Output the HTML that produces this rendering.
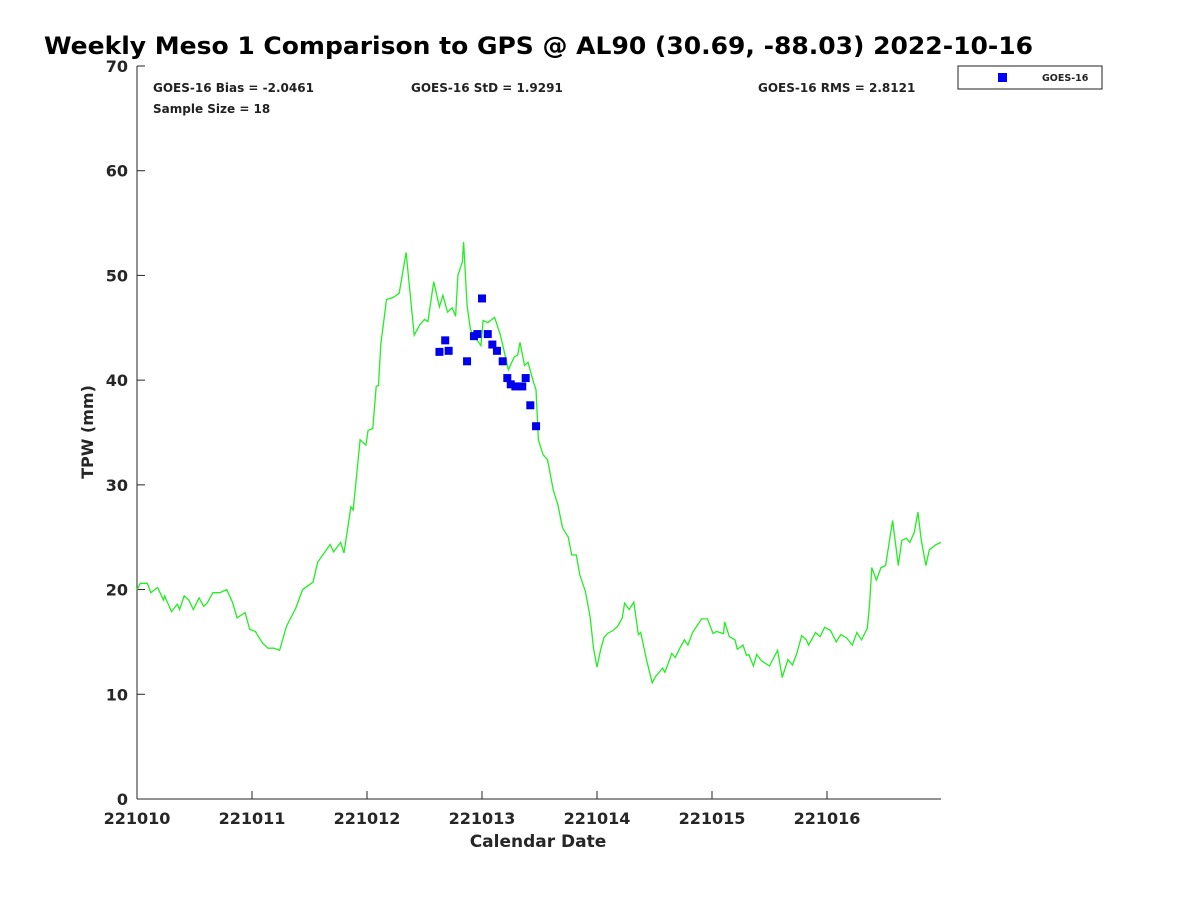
<!DOCTYPE html>
<html><head><meta charset="utf-8"><style>
body{margin:0;background:#fff;}
svg{display:block;font-family:"DejaVu Sans","Liberation Sans",sans-serif;}
</style></head><body>
<svg id="chart" width="1200" height="900" viewBox="0 0 1200 900" xmlns="http://www.w3.org/2000/svg">
<rect width="1200" height="900" fill="#fff"/>
<text x="44" y="54" font-size="24" font-weight="bold" fill="#000" textLength="989" lengthAdjust="spacingAndGlyphs">Weekly Meso 1 Comparison to GPS @ AL90 (30.69, -88.03) 2022-10-16</text>
<g id="axes"></g>
<g id="series"></g>
<text x="153" y="92" font-size="12" font-weight="bold" fill="#222">GOES-16 Bias = -2.0461</text>
<text x="411" y="92" font-size="12" font-weight="bold" fill="#222">GOES-16 StD = 1.9291</text>
<text x="758" y="92" font-size="12" font-weight="bold" fill="#222">GOES-16 RMS = 2.8121</text>
<text x="153" y="113" font-size="12" font-weight="bold" fill="#222">Sample Size = 18</text>
<g>
<rect x="958" y="66" width="144" height="23" fill="#fff" stroke="#222" stroke-width="1"/>
<rect x="998" y="73" width="9" height="9" fill="#0000ff"/>
<text x="1042" y="81" font-size="9.5" font-weight="bold" fill="#222">GOES-16</text>
</g>
<text x="538" y="847" text-anchor="middle" font-size="17" font-weight="bold" fill="#262626">Calendar Date</text>
<text x="93" y="432" text-anchor="middle" font-size="16" font-weight="bold" fill="#262626" transform="rotate(-90 93 432)">TPW (mm)</text>
</svg>
<script>
const xTickLabels=["221010","221011","221012","221013","221014","221015","221016"];
const yTicks=[0,10,20,30,40,50,60,70];
const gpsDays=[0,.03,.09,.12,.18,.23,.24,.30,.35,.37,.41,.45,.49,.54,.58,.61,.66,.72,.78,.83,.87,.94,.98,1.03,1.09,1.14,1.19,1.24,1.30,1.38,1.44,1.53,1.57,1.68,1.71,1.77,1.80,1.86,1.88,1.94,1.99,2.01,2.05,2.08,2.10,2.12,2.17,2.23,2.28,2.34,2.41,2.46,2.50,2.53,2.58,2.63,2.66,2.70,2.74,2.77,2.79,2.83,2.84,2.87,2.90,2.94,2.99,3.01,3.05,3.11,3.16,3.23,3.28,3.31,3.33,3.37,3.40,3.45,3.47,3.49,3.53,3.57,3.62,3.66,3.70,3.75,3.78,3.82,3.85,3.90,3.94,3.97,4.0,4.03,4.06,4.09,4.14,4.18,4.22,4.24,4.28,4.32,4.36,4.38,4.43,4.48,4.51,4.57,4.59,4.65,4.68,4.72,4.76,4.79,4.83,4.91,4.96,5.01,5.04,5.10,5.11,5.15,5.20,5.22,5.27,5.30,5.32,5.36,5.39,5.43,5.50,5.57,5.61,5.66,5.70,5.74,5.78,5.82,5.84,5.90,5.94,5.98,6.03,6.08,6.12,6.17,6.22,6.26,6.30,6.35,6.37,6.39,6.43,6.47,6.51,6.57,6.62,6.65,6.69,6.72,6.76,6.79,6.82,6.86,6.89,6.95,6.99];
const gpsTpw=[20.0,20.6,20.6,19.7,20.2,19.0,19.4,17.9,18.6,18.1,19.4,19.0,18.1,19.2,18.4,18.7,19.7,19.7,20.0,18.8,17.3,17.8,16.2,16.0,14.9,14.4,14.4,14.2,16.5,18.2,20.0,20.7,22.6,24.3,23.6,24.5,23.5,27.9,27.6,34.3,33.8,35.2,35.4,39.4,39.5,43.4,47.7,47.9,48.3,52.2,44.3,45.3,45.8,45.6,49.4,47.0,48.1,46.5,46.9,46.1,50.0,51.3,53.2,47.1,44.8,44.1,43.3,45.7,45.5,46.0,44.3,41.0,42.2,42.4,43.6,41.4,41.7,39.7,39.1,34.3,32.9,32.4,29.5,28.1,25.9,25.0,23.3,23.3,21.4,19.8,17.4,14.4,12.6,14.2,15.4,15.8,16.1,16.5,17.3,18.7,18.1,18.8,15.7,15.9,13.3,11.1,11.7,12.5,12.1,13.9,13.5,14.4,15.2,14.7,15.9,17.2,17.2,15.8,16.0,15.8,16.9,15.5,15.2,14.3,14.7,13.7,13.8,12.7,13.8,13.2,12.7,14.2,11.6,13.3,12.8,14.0,15.6,15.2,14.7,15.9,15.5,16.4,16.1,15.0,15.7,15.4,14.7,15.9,15.2,16.3,18.6,22.1,20.9,22.1,22.3,26.6,22.3,24.7,24.9,24.5,25.5,27.4,24.7,22.3,23.8,24.3,24.5];
const goesDays=[2.63,2.68,2.71,2.87,2.93,2.96,3.0,3.05,3.09,3.13,3.18,3.22,3.25,3.29,3.35,3.38,3.42,3.47];
const goesTpw=[42.7,43.8,42.8,41.8,44.2,44.4,47.8,44.4,43.4,42.8,41.8,40.2,39.6,39.4,39.4,40.2,37.6,35.6];

const NS="http://www.w3.org/2000/svg";
const X0=137,X1=941,Y0=799,Y1=66,DAYW=115;
const xs=d=>X0+d*DAYW;
const ys=v=>Y0-(v/70)*(Y0-Y1);
function mk(tag,attrs,parent){const e=document.createElementNS(NS,tag);for(const k in attrs)e.setAttribute(k,attrs[k]);parent.appendChild(e);return e;}
const axes=document.getElementById('axes'),ser=document.getElementById('series');
let a=mk('line',{x1:X0,y1:Y0,x2:X1,y2:Y0,stroke:'#262626','stroke-width':1},axes);


a=mk('line',{x1:X0,y1:Y0,x2:X0,y2:Y1,stroke:'#262626','stroke-width':1},axes);


yTicks.forEach(v=>{
 const t=mk('line',{x1:X0,y1:ys(v),x2:X0+8,y2:ys(v),stroke:'#262626'},axes);
 
 
 const l=mk('text',{x:X0-9,y:ys(v)+6,'text-anchor':'end','font-size':16,'font-weight':'bold',fill:'#262626'},axes);
 l.textContent=v;
 
 
});
xTickLabels.forEach((s,i)=>{
 const t=mk('line',{x1:xs(i),y1:Y0,x2:xs(i),y2:Y0-8,stroke:'#262626'},axes);
 
 
 const l=mk('text',{x:xs(i),y:Y0+25,'text-anchor':'middle','font-size':16,'font-weight':'bold',fill:'#262626'},axes);
 l.textContent=s;
 
 
});
const pts=gpsDays.map((d,i)=>xs(d).toFixed(1)+','+ys(gpsTpw[i]).toFixed(1)).join(' ');
const pl=mk('polyline',{points:pts,fill:'none',stroke:'#22ee22','stroke-width':1.3},ser);


goesDays.forEach((d,i)=>{
 const r=mk('rect',{x:xs(d)-4,y:ys(goesTpw[i])-4,width:8,height:8,fill:'#0000ee'},ser);
 
 
});
</script>
</body></html>
